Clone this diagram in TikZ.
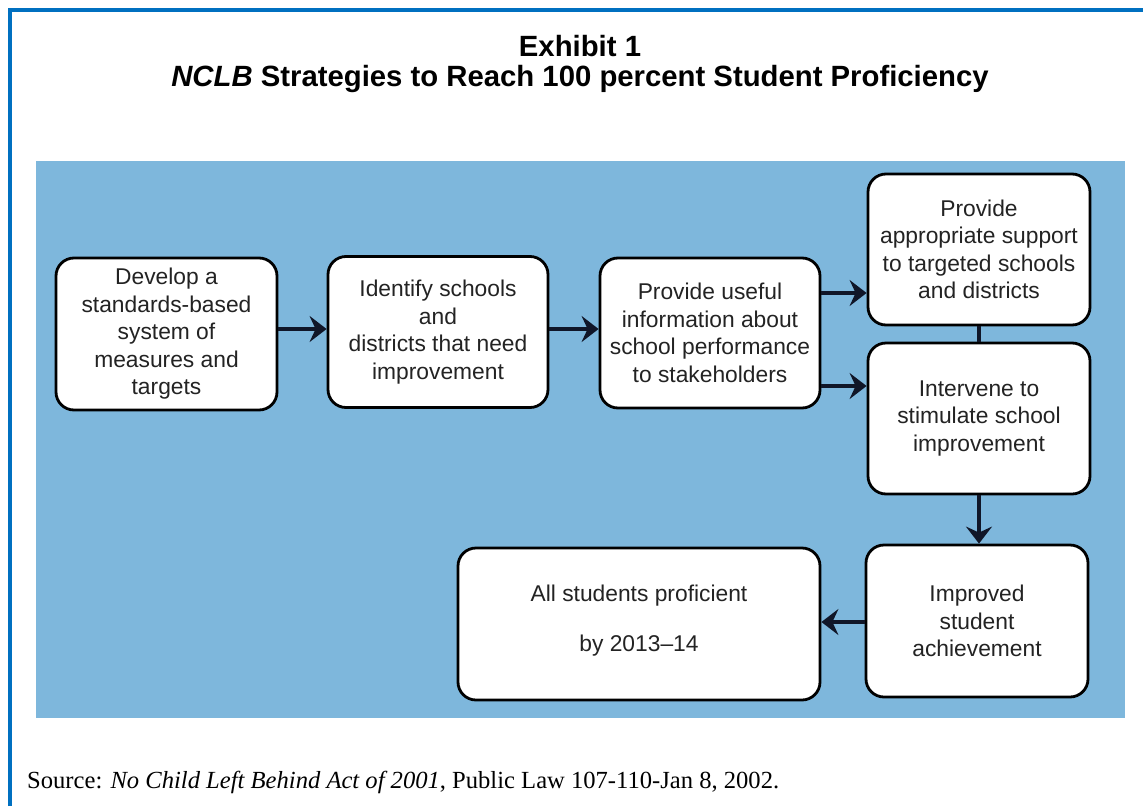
\documentclass[tikz,border=0pt]{standalone}
\usepackage{fontspec}
\setmainfont{Liberation Sans}
\newfontfamily\srcfont{Liberation Serif}
\usetikzlibrary{arrows.meta}
\definecolor{panelblue}{RGB}{126,183,220}
\definecolor{frameblue}{RGB}{0,112,192}
\definecolor{arrowcol}{RGB}{16,22,40}
\definecolor{txt}{RGB}{35,35,35}
\begin{document}
\begin{tikzpicture}[x=1pt,y=-1pt,
  box/.style={draw=black, line width=2.8pt, fill=white, rounded corners=18pt,
    text=txt, align=center, font=\fontsize{22.8}{27.5}\selectfont, inner sep=0pt},
  arr/.style={draw=arrowcol, line width=4pt, -{Stealth[length=17pt,width=26pt,inset=6pt]}},
  link/.style={draw=arrowcol, line width=4pt}]
\useasboundingbox (0,0) rectangle (1143,806);
\fill[white] (0,0) rectangle (1143,806);
\draw[frameblue, line width=4pt] (10,806) -- (10,10) -- (1143,10);
\fill[panelblue] (36,161) rectangle (1125,718);

\node (t1) at (580,46) {\fontsize{29.3}{33}\selectfont\bfseries Exhibit 1};
\node (t2) at (580,79) {\fontsize{29.3}{33}\selectfont\bfseries\itshape NCLB\upshape{} Strategies to Reach 100 percent Student Proficiency};

\node[box, minimum width=221pt, minimum height=152pt] (b1) at (166.5,334)
  {Develop a\\standards-based\\system of\\measures and\\targets};
\node[box, minimum width=220pt, minimum height=151pt] (b2) at (438,332)
  {Identify schools\\and\\districts that need\\improvement};
\node[box, minimum width=220pt, minimum height=150pt] (b3) at (710,333)
  {Provide useful\\information about\\school performance\\to stakeholders};
\node[box, minimum width=222pt, minimum height=151pt] (b4) at (979,249.5)
  {Provide\\appropriate support\\to targeted schools\\and districts};
\node[box, minimum width=222pt, minimum height=151pt] (b5) at (979,418.5)
  {Intervene to\\stimulate school\\improvement};
\node[box, minimum width=222pt, minimum height=152pt] (b6) at (977,621)
  {Improved\\student\\achievement};
\node[box, minimum width=362pt, minimum height=152pt, text depth=12pt] (b7) at (639,624)
  {All students proficient\\[23pt]by 2013--14};

\coordinate (ya) at (0,329);
\coordinate (yb) at (0,293);
\coordinate (yc) at (0,386);
\coordinate (yd) at (0,622);

\draw[arr] (b1.east |- ya) -- (b2.west |- ya);
\draw[arr] (b2.east |- ya) -- (b3.west |- ya);
\draw[arr] (b3.east |- yb) -- (b4.west |- yb);
\draw[arr] (b3.east |- yc) -- (b5.west |- yc);
\draw[link] (b4.south) -- (b5.north);
\draw[arr] (b5.south) -- (b5.south |- b6.north);
\draw[arr] (b6.west |- yd) -- (b7.east |- yd);

\node[anchor=west, inner sep=0pt] (src) at (27,782)
  {\srcfont\fontsize{24.6}{28}\selectfont Source: \textit{No Child Left Behind Act of 2001}, Public Law 107-110-Jan 8, 2002.};
\end{tikzpicture}
\end{document}
